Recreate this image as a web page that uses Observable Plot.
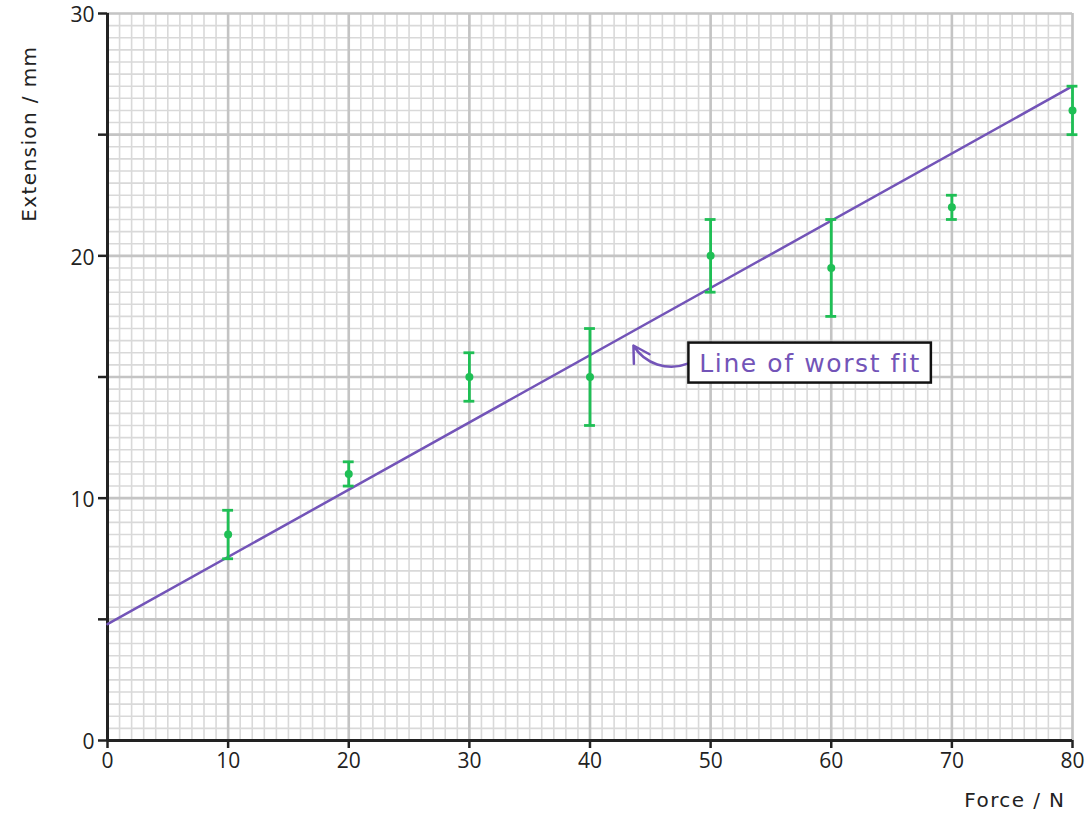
<!DOCTYPE html>
<html>
<head>
<meta charset="utf-8">
<script src="https://cdn.jsdelivr.net/npm/d3@7"></script>
<script src="https://cdn.jsdelivr.net/npm/@observablehq/plot@0.6"></script>
<style>
  html, body { margin: 0; padding: 0; background: #fff; }
  #chart svg { display: block; overflow: visible; }
</style>
</head>
<body>
<div id="chart"></div>
<script>
// Data
const force = [10, 20, 30, 40, 50, 60, 70, 80];
const extension = [8.5, 11, 15, 15, 20, 19.5, 22, 26];
const errLow = [7.5, 10.5, 14, 13, 18.5, 17.5, 21.5, 25];
const errHigh = [9.5, 11.5, 16, 17, 21.5, 21.5, 22.5, 27];
const fitForce = [0, 80];
const fitExtension = [4.8, 27];
const xTicks = [0, 10, 20, 30, 40, 50, 60, 70, 80];
const yTicks = [0, 5, 10, 15, 20, 25, 30];
const yTickLabels = ["0", "", "10", "", "20", "", "30"];
const xMinorGrid = d3.range(0, 81, 1);
const yMinorGrid = d3.range(0, 30.01, 0.5);
const xMajorGrid = [10, 20, 30, 40, 50, 60, 70, 80];
const yMajorGrid = [5, 10, 15, 20, 25, 30];
const noteBox = [{x1: 48.2, x2: 68.3, y1: 14.75, y2: 16.4}];
const noteText = [{x: 58.25, y: 15.55, label: "Line of worst fit"}];
const noteArrow = [{x1: 48.1, y1: 15.55, x2: 43.6, y2: 16.3}];
const xLabel = "Force / N";
const yLabel = "Extension / mm";

const points = force.map((f, i) => ({x: f, y: extension[i], lo: errLow[i], hi: errHigh[i]}));
const fit = fitForce.map((f, i) => ({x: f, y: fitExtension[i]}));

const green = "#1fbf55";
const purple = "#7354b8";
const font = "Open Sans, sans-serif";
const labelFont = "DejaVu Sans, sans-serif";

const chart = Plot.plot({
  width: 1086,
  height: 824,
  marginLeft: 107,
  marginRight: 14,
  marginTop: 13,
  marginBottom: 84,
  style: {fontFamily: font, background: "#fff", overflow: "visible"},
  x: {domain: [0, 80]},
  y: {domain: [0, 30]},
  marks: [
    Plot.gridX(xMinorGrid, {stroke: "#d9d9d9", strokeOpacity: 1, strokeWidth: 1.6}),
    Plot.gridY(yMinorGrid, {stroke: "#d9d9d9", strokeOpacity: 1, strokeWidth: 1.6}),
    Plot.gridX(xMajorGrid, {stroke: "#c4c4c4", strokeOpacity: 1, strokeWidth: 2.6}),
    Plot.gridY(yMajorGrid, {stroke: "#c4c4c4", strokeOpacity: 1, strokeWidth: 2.6}),
    Plot.axisX({ticks: xTicks, tickSize: 8, tickPadding: 5, fontSize: 21, stroke: "#222", strokeWidth: 2.5, fill: "#222", label: null}),
    Plot.axisY({ticks: yTicks, tickFormat: () => "", tickSize: 9, stroke: "#222", strokeWidth: 2.5, label: null}),
    Plot.axisY({ticks: yTicks, tickFormat: (d) => yTickLabels[yTicks.indexOf(d)], tickSize: 0, tickPadding: 13, fontSize: 21, fill: "#222", label: null, dy: 2}),
    Plot.ruleX([0], {stroke: "#222", strokeWidth: 3}),
    Plot.ruleY([0], {stroke: "#222", strokeWidth: 3}),
    Plot.line(fit, {x: "x", y: "y", stroke: purple, strokeWidth: 2.5}),
    Plot.link(points, {x1: "x", x2: "x", y1: "lo", y2: "hi", stroke: green, strokeWidth: 2.8}),
    Plot.ruleY(points, {y: "lo", x1: d => d.x - 0.45, x2: d => d.x + 0.45, stroke: green, strokeWidth: 2.8}),
    Plot.ruleY(points, {y: "hi", x1: d => d.x - 0.45, x2: d => d.x + 0.45, stroke: green, strokeWidth: 2.8}),
    Plot.dot(points, {x: "x", y: "y", r: 4, fill: green}),
    Plot.arrow(noteArrow, {x1: "x1", y1: "y1", x2: "x2", y2: "y2", bend: 40, stroke: purple, strokeWidth: 2.5, headLength: 11}),
    Plot.rect(noteBox, {x1: "x1", x2: "x2", y1: "y1", y2: "y2", fill: "#fff", stroke: "#111", strokeWidth: 2.5}),
    Plot.text(noteText, {x: "x", y: "y", text: "label", fill: purple, fontSize: 25, fontFamily: labelFont}),
    Plot.text([xLabel], {frameAnchor: "bottom-right", dx: -7, dy: 66, textAnchor: "end", fontSize: 20, fill: "#222", fontFamily: labelFont}),
    Plot.text([yLabel], {frameAnchor: "top-left", dx: -86, dy: 32, rotate: -90, textAnchor: "end", fontSize: 20, fill: "#222", fontFamily: labelFont})
  ]
});
// Widen letter spacing of the hand-lettered labels
d3.select(chart).selectAll("text").each(function() {
  const t = this.textContent;
  if (t === xLabel || t === yLabel) this.style.letterSpacing = "1.4px";
  if (t === noteText[0].label) this.style.letterSpacing = "1.6px";
});
document.getElementById("chart").appendChild(chart);
</script>
</body>
</html>
